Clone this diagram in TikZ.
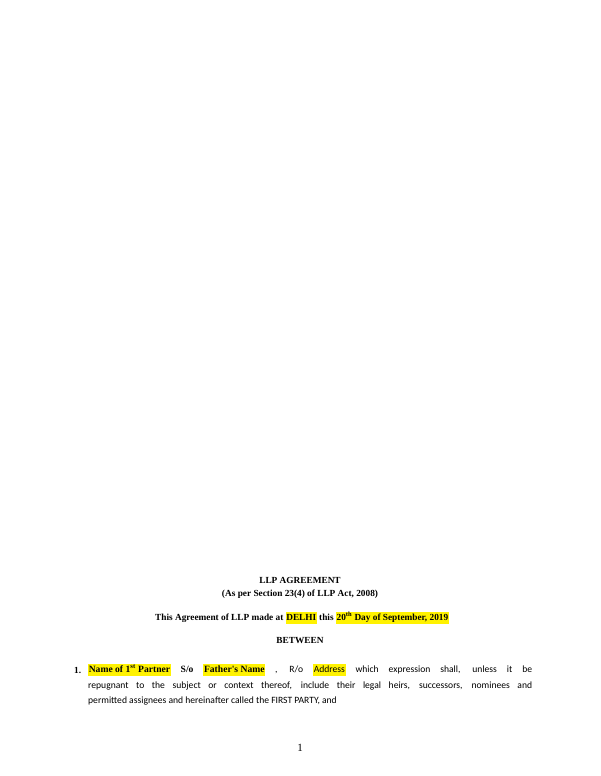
\documentclass[tikz,border=0pt]{standalone}
\usepackage{fontspec}
\setmainfont{Carlito}
\newfontfamily\hdfont{Liberation Serif}
\usepackage{xcolor}
\newcommand{\hl}[1]{{\setlength{\fboxsep}{0.6pt}\colorbox{yellow}{\strut #1}}}
\begin{document}
\begin{tikzpicture}[x=1pt,y=-1pt,
  hd/.style={font=\hdfont\bfseries\fontsize{9.3}{11}\selectfont, inner sep=0pt},
  bd/.style={font=\fontsize{9.6}{11}\selectfont, inner sep=0pt, anchor=west}]
\fill[white] (0,0) rectangle (600,776);
\node[hd] (t1) at (300,580) {LLP AGREEMENT};
\node[hd] (t2) at (300,594) {(As per Section 23(4) of LLP Act, 2008)};
\node[hd] (t3) at (302,618) {This Agreement of LLP made at \hl{DELHI} this \hl{20\textsuperscript{th} Day of September, 2019}};
\node[hd] (t4) at (300,641) {BETWEEN};
\node[hd, anchor=west] (n1) at (74,670) {1.};
\node[bd] (l1) at (88,670) {\makebox[444pt][s]{\hl{\hdfont\bfseries Name of 1\textsuperscript{st} Partner} {\hdfont\bfseries S/o} \hl{\hdfont\bfseries Father's Name} , R/o \hl{Address} which expression shall, unless it be}};
\node[bd] (l2) at (88,686) {\makebox[444pt][s]{repugnant to the subject or context thereof, include their legal heirs, successors, nominees and}};
\node[bd] (l3) at (88,701) {permitted assignees and hereinafter called the FIRST PARTY, and};
\node[font=\hdfont\fontsize{11}{12}\selectfont, inner sep=0pt] (pg) at (300,748) {1};
\end{tikzpicture}
\end{document}
